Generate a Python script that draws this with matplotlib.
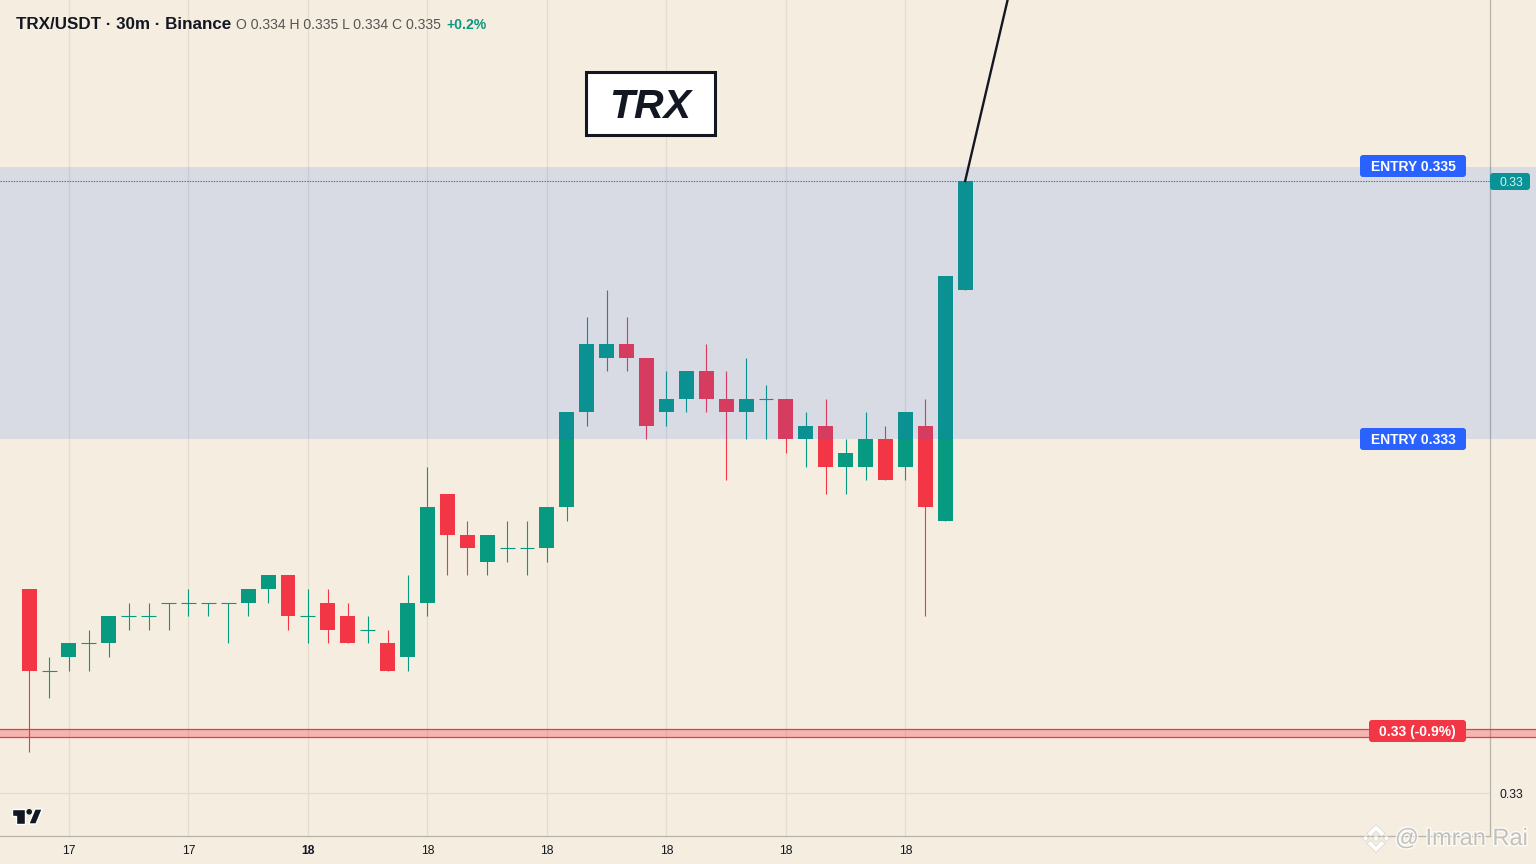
import matplotlib
matplotlib.use("Agg")
import matplotlib.pyplot as plt
import matplotlib.patheffects as pe
from matplotlib.patches import FancyBboxPatch, Rectangle, Polygon

plt.rcParams['font.family'] = ['Liberation Sans', 'DejaVu Sans']

# ohlc
opens = [0.3320, 0.3314, 0.3315, 0.3316, 0.3316, 0.3318, 0.3318, 0.3319, 0.3319, 0.3319,
         0.3319, 0.3319, 0.3320, 0.3321, 0.3318, 0.3319, 0.3318, 0.3317, 0.3316, 0.3315,
         0.3319, 0.3327, 0.3324, 0.3322, 0.3323, 0.3323, 0.3323, 0.3326, 0.3333, 0.3337,
         0.3338, 0.3337, 0.3333, 0.3334, 0.3336, 0.3334, 0.3333, 0.3334, 0.3334, 0.3331,
         0.3332, 0.3329, 0.3329, 0.3331, 0.3329, 0.3332, 0.3325, 0.3342]
highs = [0.3320, 0.3315, 0.3316, 0.3317, 0.3318, 0.3319, 0.3319, 0.3319, 0.3320, 0.3319,
         0.3319, 0.3320, 0.3321, 0.3321, 0.3320, 0.3320, 0.3319, 0.3318, 0.3317, 0.3321,
         0.3329, 0.3327, 0.3325, 0.3324, 0.3325, 0.3325, 0.3326, 0.3333, 0.3340, 0.3342,
         0.3340, 0.3337, 0.3336, 0.3336, 0.3338, 0.3336, 0.3337, 0.3335, 0.3334, 0.3333,
         0.3334, 0.3331, 0.3333, 0.3332, 0.3333, 0.3334, 0.3343, 0.3350]
lows = [0.3308, 0.3312, 0.3314, 0.3314, 0.3315, 0.3317, 0.3317, 0.3317, 0.3318, 0.3318,
        0.3316, 0.3318, 0.3319, 0.3317, 0.3316, 0.3316, 0.3316, 0.3316, 0.3314, 0.3314,
        0.3318, 0.3321, 0.3321, 0.3321, 0.3322, 0.3321, 0.3322, 0.3325, 0.3332, 0.3336,
        0.3336, 0.3331, 0.3332, 0.3333, 0.3333, 0.3328, 0.3331, 0.3331, 0.3330, 0.3329,
        0.3327, 0.3327, 0.3328, 0.3328, 0.3328, 0.3318, 0.3325, 0.3342]
closes = [0.3314, 0.3314, 0.3316, 0.3316, 0.3318, 0.3318, 0.3318, 0.3319, 0.3319, 0.3319,
          0.3319, 0.3320, 0.3321, 0.3318, 0.3318, 0.3317, 0.3316, 0.3317, 0.3314, 0.3319,
          0.3326, 0.3324, 0.3323, 0.3324, 0.3323, 0.3323, 0.3326, 0.3333, 0.3338, 0.3338,
          0.3337, 0.3332, 0.3334, 0.3336, 0.3334, 0.3333, 0.3334, 0.3334, 0.3331, 0.3332,
          0.3329, 0.3330, 0.3331, 0.3328, 0.3333, 0.3326, 0.3343, 0.3350]

tick_bars = [2, 8, 14, 20, 26, 32, 38, 44]
tick_labels = ['17', '17', '18', '18', '18', '18', '18', '18']
zone_top = 0.3351
zone_bottom = 0.3331
stop_top = 0.33097
stop_bottom = 0.33091
last_price = 0.3350
grid_price = 0.3305
trend_x = [47, 49.13]
trend_y = [0.3350, 0.33633]

BG = '#f5eee0'
GREEN = '#089981'
RED = '#f23645'
BLUE = '#2962ff'
GRID = '#e3dccf'
AXIS = '#b5b2a8'

fig = plt.figure(figsize=(15.36, 8.64), dpi=100, facecolor=BG)
ax = fig.add_axes([0, 28 / 864, 1490 / 1536, 836 / 864], facecolor=BG)
ax.set_xlim(-1.462, 73.354)
ax.set_ylim(0.330184, 0.336331)

for i in range(len(opens)):
    col = GREEN if closes[i] >= opens[i] else RED
    ax.plot([i, i], [lows[i], highs[i]], color=col, lw=0.8, solid_capstyle='butt', zorder=3)
    lo = min(opens[i], closes[i])
    hi = max(opens[i], closes[i])
    if hi == lo:
        ax.plot([i - 0.375, i + 0.375], [hi, hi], color=col, lw=0.8, solid_capstyle='butt', zorder=3)
    else:
        ax.bar(i, hi - lo, bottom=lo, width=0.75, color=col, lw=0, zorder=3)

ax.set_xticks(tick_bars)
ax.set_xticklabels(tick_labels, fontsize=8.7, color='#131722')
ax.get_xticklabels()[2].set_fontweight('bold')
ax.set_yticks([grid_price])
ax.set_yticklabels(['0.33'], fontsize=8.7, color='#131722')
ax.yaxis.tick_right()
ax.tick_params(length=0)
ax.tick_params(axis='x', pad=6.6)
ax.tick_params(axis='y', pad=6.5)
ax.grid(True, color=GRID, lw=0.9, zorder=0)
ax.set_axisbelow(True)
for s in ['top', 'left']:
    ax.spines[s].set_visible(False)
for s in ['right', 'bottom']:
    ax.spines[s].set_color(AXIS)
    ax.spines[s].set_linewidth(0.9)

# zone and stop band run on under the price scale
right = 1536 / 1490
ax.axhspan(zone_bottom, zone_top, xmax=right, color=BLUE, alpha=0.14, lw=0, zorder=4, clip_on=False)
ax.axhspan(stop_bottom, stop_top, xmax=right, color=RED, alpha=0.3, lw=0, zorder=4, clip_on=False)
for p in [stop_bottom, stop_top]:
    ax.plot([0, right], [p, p], transform=ax.get_yaxis_transform(), color=RED, lw=0.9, zorder=4, clip_on=False)
ax.axhline(last_price, color='#0a8f8a', lw=0.8, ls=(0, (1.2, 1.2)), zorder=5)
ax.plot(trend_x, trend_y, color='#131722', lw=1.7, zorder=6)

# overlay in pixels for the labels
over = fig.add_axes([0, 0, 1, 1], facecolor='none')
over.set_xlim(0, 1536)
over.set_ylim(864, 0)
over.axis('off')


def tag(x0, y0, x1, y1, col, txt, size=10.0, weight='bold', tcol='white', dx=0.0):
    over.add_patch(FancyBboxPatch((x0 + 2, y0 + 2), x1 - x0 - 4, y1 - y0 - 4,
                                  boxstyle='round,pad=2,rounding_size=3', fc=col, ec='none', zorder=7))
    over.text((x0 + x1) / 2 + dx, (y0 + y1) / 2 + 1, txt, color=tcol, fontsize=size, fontweight=weight,
              ha='center', va='center', zorder=8)


tag(1360, 155, 1466, 177, BLUE, 'ENTRY 0.335')
tag(1360, 428, 1466, 450, BLUE, 'ENTRY 0.333')
tag(1369, 720, 1466, 742, RED, '0.33 (-0.9%)')
tag(1490, 173, 1530, 190, '#0a9396', '0.33', size=8.7, weight='normal', tcol='#d8f0ee', dx=1.5)

over.add_patch(Rectangle((585.5, 71.5), 129.7, 63.7, fc='white', ec='#131722', lw=2.2, zorder=7))
over.text(650.5, 103, 'TRX', fontsize=29.5, fontweight='bold', fontstyle='italic', color='#131722',
          ha='center', va='center_baseline', zorder=8)

# header
over.text(16, 24.4, 'TRX/USDT · 30m · Binance', fontsize=12.25, fontweight='bold', color='#131722', va='center')
over.text(236, 25, 'O 0.334 H 0.335 L 0.334 C 0.335', fontsize=10.1, color='#555555', va='center')
over.text(446, 25, '+0.2%', fontsize=10.1, fontweight='bold', color=GREEN, va='center')

# tv logo
logo = [[(12, 809), (25, 809), (25, 824), (16, 824), (16, 816), (12, 816)],
        [(35, 809), (42.3, 809), (36, 824), (28.7, 824)]]
for pts in logo:
    over.add_patch(Polygon(pts, fc='#131722', ec='white', lw=1.0, zorder=7))
over.add_patch(plt.Circle((29.2, 811.8), 2.8, fc='#131722', ec='none', zorder=8))

# watermark
halo = [pe.withStroke(linewidth=2.0, foreground='white', alpha=0.8)]
over.text(1395, 839, '@ Imran Rai', fontsize=17, color='#c4c1ba', va='center', zorder=9, path_effects=halo)
cx, cy = 1376, 838.5
chevron = [(0, -14), (9, -5), (5.5, -2), (0, -7.5), (-5.5, -2), (-9, -5)]
mark = dict(fc='white', ec='#d8d5cd', lw=0.5, zorder=9)
over.add_patch(Polygon([(cx + a, cy + b) for a, b in chevron], **mark))
over.add_patch(Polygon([(cx + a, cy - b) for a, b in chevron], **mark))
for dx, r in [(-10.5, 3), (0, 3.2), (10.5, 3)]:
    over.add_patch(Polygon([(cx + dx, cy - r), (cx + dx + r, cy), (cx + dx, cy + r), (cx + dx - r, cy)], **mark))

fig.savefig('out.png', dpi=100, facecolor=BG)
